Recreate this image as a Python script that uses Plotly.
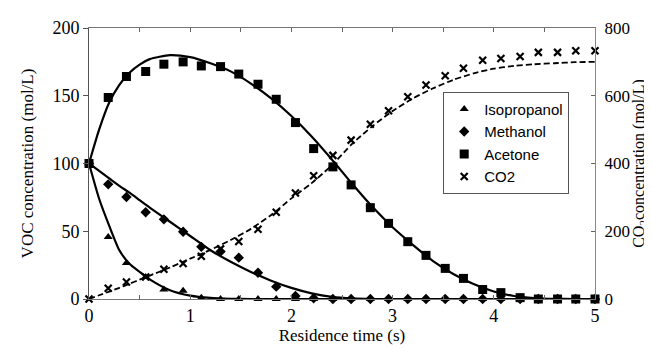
import plotly.graph_objects as go

# Measured residence times (s)
t_meas = [0, 0.19, 0.37, 0.56, 0.74, 0.93, 1.11, 1.30, 1.48, 1.67, 1.85, 2.04, 2.22, 2.41,
          2.59, 2.78, 2.96, 3.15, 3.33, 3.52, 3.70, 3.89, 4.07, 4.26, 4.44, 4.63, 4.81, 5.00]

isopropanol = [100, 45.8, 26.5, 16.2, 7.1, 6, 1, 0, 0, 0, 0, 0, 0, 0,
               0, 0, 0, 0, 0, 0, 0, 0, 0, 0, 0, 0, 0, 0]
methanol = [100, 84.6, 75.3, 64, 58.8, 49.6, 38.5, 35, 30.5, 19.4, 9.1, 2.2, 0.5, 0,
            0, 0, 0, 0, 0, 0, 0, 0, 0, 0, 0, 0, 0, 0]
acetone = [100, 148.7, 164.2, 167.9, 173.3, 175, 172, 171.5, 166, 158.5, 147.4, 130.2, 111, 97.5,
           84.2, 67.4, 55.8, 42.3, 32.2, 22.6, 15.2, 7, 4.7, 1, 0, 0, 0, 0]
co2 = [0, 32, 50, 65, 88, 105, 126, 148, 170, 206, 256, 313, 364, 424,
       469, 516, 556, 597, 632, 659, 681, 705, 710, 716, 728, 728, 733, 733]

# Model curves
t_fit = [0, 0.1, 0.2, 0.3, 0.4, 0.5, 0.6, 0.8, 1.0, 1.2, 1.4, 1.6, 1.8, 2.0, 2.2,
         2.4, 2.6, 2.8, 3.0, 3.2, 3.4, 3.6, 3.8, 4.0, 4.2, 4.4, 4.6, 4.8, 5.0]
iso_fit = [100, 74, 54, 36, 26, 20, 14.5, 6.5, 2.5, 0.8, 0.2, 0, 0, 0, 0,
           0, 0, 0, 0, 0, 0, 0, 0, 0, 0, 0, 0, 0, 0]
meth_fit = [100, 94.5, 89, 83.5, 78.5, 73, 67.5, 57, 46.5, 36, 27.5, 20, 13.5, 8.2, 4.2,
            1.6, 0.4, 0, 0, 0, 0, 0, 0, 0, 0, 0, 0, 0, 0]
acet_fit = [100, 125, 145, 158, 167, 173, 177, 180, 178.5, 174, 168, 159, 148, 135, 120,
            103, 85, 68, 53, 40, 28, 18.5, 11, 5.5, 2.2, 0.7, 0.1, 0, 0]
co2_fit = [0, 11, 22, 33, 45, 57, 69, 93, 119, 145, 174, 207, 248, 297, 342,
           395, 458, 510, 555, 592, 622, 647, 666, 680, 688, 693, 696, 699, 700]

serif = "Liberation Serif, Times New Roman, serif"
sans = "Liberation Sans, Arial, sans-serif"

fig = go.Figure()

# fitted lines
for y, dash, ax in [(iso_fit, "solid", "y"), (meth_fit, "solid", "y"),
                    (acet_fit, "solid", "y"), (co2_fit, "6px,3px", "y2")]:
    fig.add_trace(go.Scatter(x=t_fit, y=y, mode="lines", yaxis=ax, showlegend=False,
                             line=dict(color="black", width=2.2 if dash == "solid" else 1.8,
                                       dash=dash, shape="spline", smoothing=0.6),
                             cliponaxis=False, hoverinfo="skip"))

# measured points
fig.add_trace(go.Scatter(x=t_meas, y=isopropanol, mode="markers", name="Isopropanol",
                         marker=dict(symbol="triangle-up", size=8, color="black"), cliponaxis=False))
fig.add_trace(go.Scatter(x=t_meas, y=methanol, mode="markers", name="Methanol",
                         marker=dict(symbol="diamond", size=8, color="black"), cliponaxis=False))
fig.add_trace(go.Scatter(x=t_meas, y=acetone, mode="markers", name="Acetone",
                         marker=dict(symbol="square", size=9, color="black"), cliponaxis=False))
fig.add_trace(go.Scatter(x=t_meas, y=co2, mode="markers", name="CO2", yaxis="y2",
                         marker=dict(symbol="x-thin", size=7, color="black",
                                     line=dict(color="black", width=2.2)), cliponaxis=False))

fig.update_layout(
    width=652, height=348,
    margin=dict(l=81, r=65, t=20, b=57),
    paper_bgcolor="white", plot_bgcolor="white",
    font=dict(family=serif, size=17, color="black"),
    showlegend=True,
    legend=dict(x=0.70, y=0.765, xanchor="left", yanchor="top",
                bgcolor="white", bordercolor="#555", borderwidth=1,
                font=dict(family=sans, size=15, color="black"),
                itemwidth=30, tracegroupgap=0),
    xaxis=dict(range=[0, 5], tickvals=[0, 1, 2, 3, 4, 5], ticktext=["0", "1", "2", "3", "4", "5"],
               ticks="inside", ticklen=4, tickcolor="#666",
               minor=dict(dtick=0.5, ticks="inside", ticklen=4, tickcolor="#666"),
               showline=True, linecolor="#777", linewidth=1, mirror="ticks",
               showgrid=False, zeroline=False, automargin=False,
               tickfont=dict(family=serif, size=18), ticklabelstandoff=0,
               title=dict(text="Residence time (s)", font=dict(family=serif, size=17), standoff=1)),
    yaxis=dict(range=[0, 200], tickvals=[0, 50, 100, 150, 200],
               ticks="outside", ticklen=5, tickcolor="#555",
               showline=True, linecolor="#555", linewidth=1,
               showgrid=False, zeroline=False, automargin=False,
               tickfont=dict(family=serif, size=18),
               title=dict(text="VOC concentration (mol/L)", font=dict(family=serif, size=17), standoff=14)),
    yaxis2=dict(range=[0, 800], tickvals=[0, 200, 400, 600, 800], overlaying="y", side="right",
                ticks="inside", ticklen=4, tickcolor="#666",
                showline=True, linecolor="#888", linewidth=1,
                showgrid=False, zeroline=False, automargin=False,
                tickfont=dict(family=serif, size=17), ticklabelstandoff=5,
                title=dict(text="CO<sub>2</sub>concentration (mol/L)", font=dict(family=serif, size=16), standoff=0)),
)

fig.write_html("out.html")
